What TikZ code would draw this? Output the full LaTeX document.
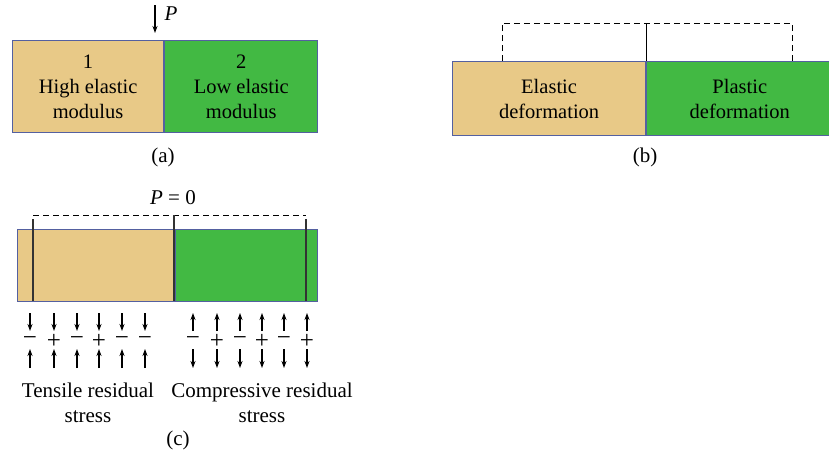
\documentclass[tikz,border=0pt]{standalone}
\usepackage{fontspec}
\setmainfont{Liberation Serif}
\usetikzlibrary{arrows.meta}

\definecolor{tanfill}{RGB}{232,201,135}
\definecolor{grnfill}{RGB}{66,185,67}
\definecolor{edgeblue}{RGB}{84,96,160}
\tikzset{
  part/.style={draw=edgeblue, line width=1.2pt, inner sep=0pt, anchor=north west, align=center,
    font=\fontsize{20.5}{25}\selectfont},
  caption/.style={font=\fontsize{21}{25}\selectfont, align=center},
  cutline/.style={draw=black!80, line width=1.4pt},
  guide/.style={line width=0.9pt, dash pattern=on 6pt off 4pt},
  force/.style={-{Stealth[length=7pt,width=5pt]}, line width=1.1pt},
  sgn/.style={font=\fontsize{25}{25}\selectfont, inner sep=0pt}
}

\begin{document}
\begin{tikzpicture}[x=1pt,y=-1pt]
\useasboundingbox (0,0) rectangle (829,455);

% (a) two materials under load
\node[part, fill=tanfill, minimum width=151pt, minimum height=92pt] (hi) at (12,40) {1\\High elastic\\modulus};
\node[part, fill=grnfill, minimum width=153pt, minimum height=92pt] (lo) at (hi.north east) {2\\Low elastic\\modulus};
\coordinate (ptop) at (155,5);
\coordinate (ptip) at (155,33);
\draw[force] (ptop) -- (ptip);
\node[caption, anchor=west] (pload) at (161,14) {\textit{P}};
\node[caption] (capa) at (163,157) {(a)};

% (b) deformation
\node[part, fill=tanfill, minimum width=193pt, minimum height=74pt] (el) at (452,61) {Elastic\\deformation};
\node[part, fill=grnfill, minimum width=186pt, minimum height=74pt] (pl) at (el.north east) {Plastic\\deformation};
\draw[guide] (502,61) |- (792,23) -- (792,61);
\draw[line width=1.1pt] (el.north east) -- ++(0,-38);
\node[caption] (capb) at (645,157) {(b)};

% (c) residual stress after unloading
\node[part, fill=tanfill, minimum width=157pt, minimum height=72pt] (tc) at (17,229) {};
\node[part, fill=grnfill, minimum width=142pt, minimum height=72pt] (cc) at (tc.north east) {};
\draw[guide] (33,215) -- (306,215);
\draw[cutline] (33,219) -- (33,301);
\draw[cutline] (174,215) -- (174,301);
\draw[cutline] (306,219) -- (306,301);
\node[caption] (pzero) at (173,198) {\textit{P} = 0};

\foreach \x/\s in {30/−,54/+,77/−,99/+,122/−,145/−}
{
  \draw[force] (\x,313) -- (\x,331);
  \node[sgn] at (\x,341) {\s};
  \draw[force] (\x,368) -- (\x,349);
}
\foreach \x/\s in {193/−,217/+,240/−,262/+,284/−,307/+}
{
  \draw[force] (\x,331) -- (\x,313);
  \node[sgn] at (\x,341) {\s};
  \draw[force] (\x,349) -- (\x,368);
}

\node[caption] (tens) at (88,403) {Tensile residual\\stress};
\node[caption] (comp) at (262,403) {Compressive residual\\stress};
\node[caption] (capc) at (178,440) {(c)};
\end{tikzpicture}
\end{document}
